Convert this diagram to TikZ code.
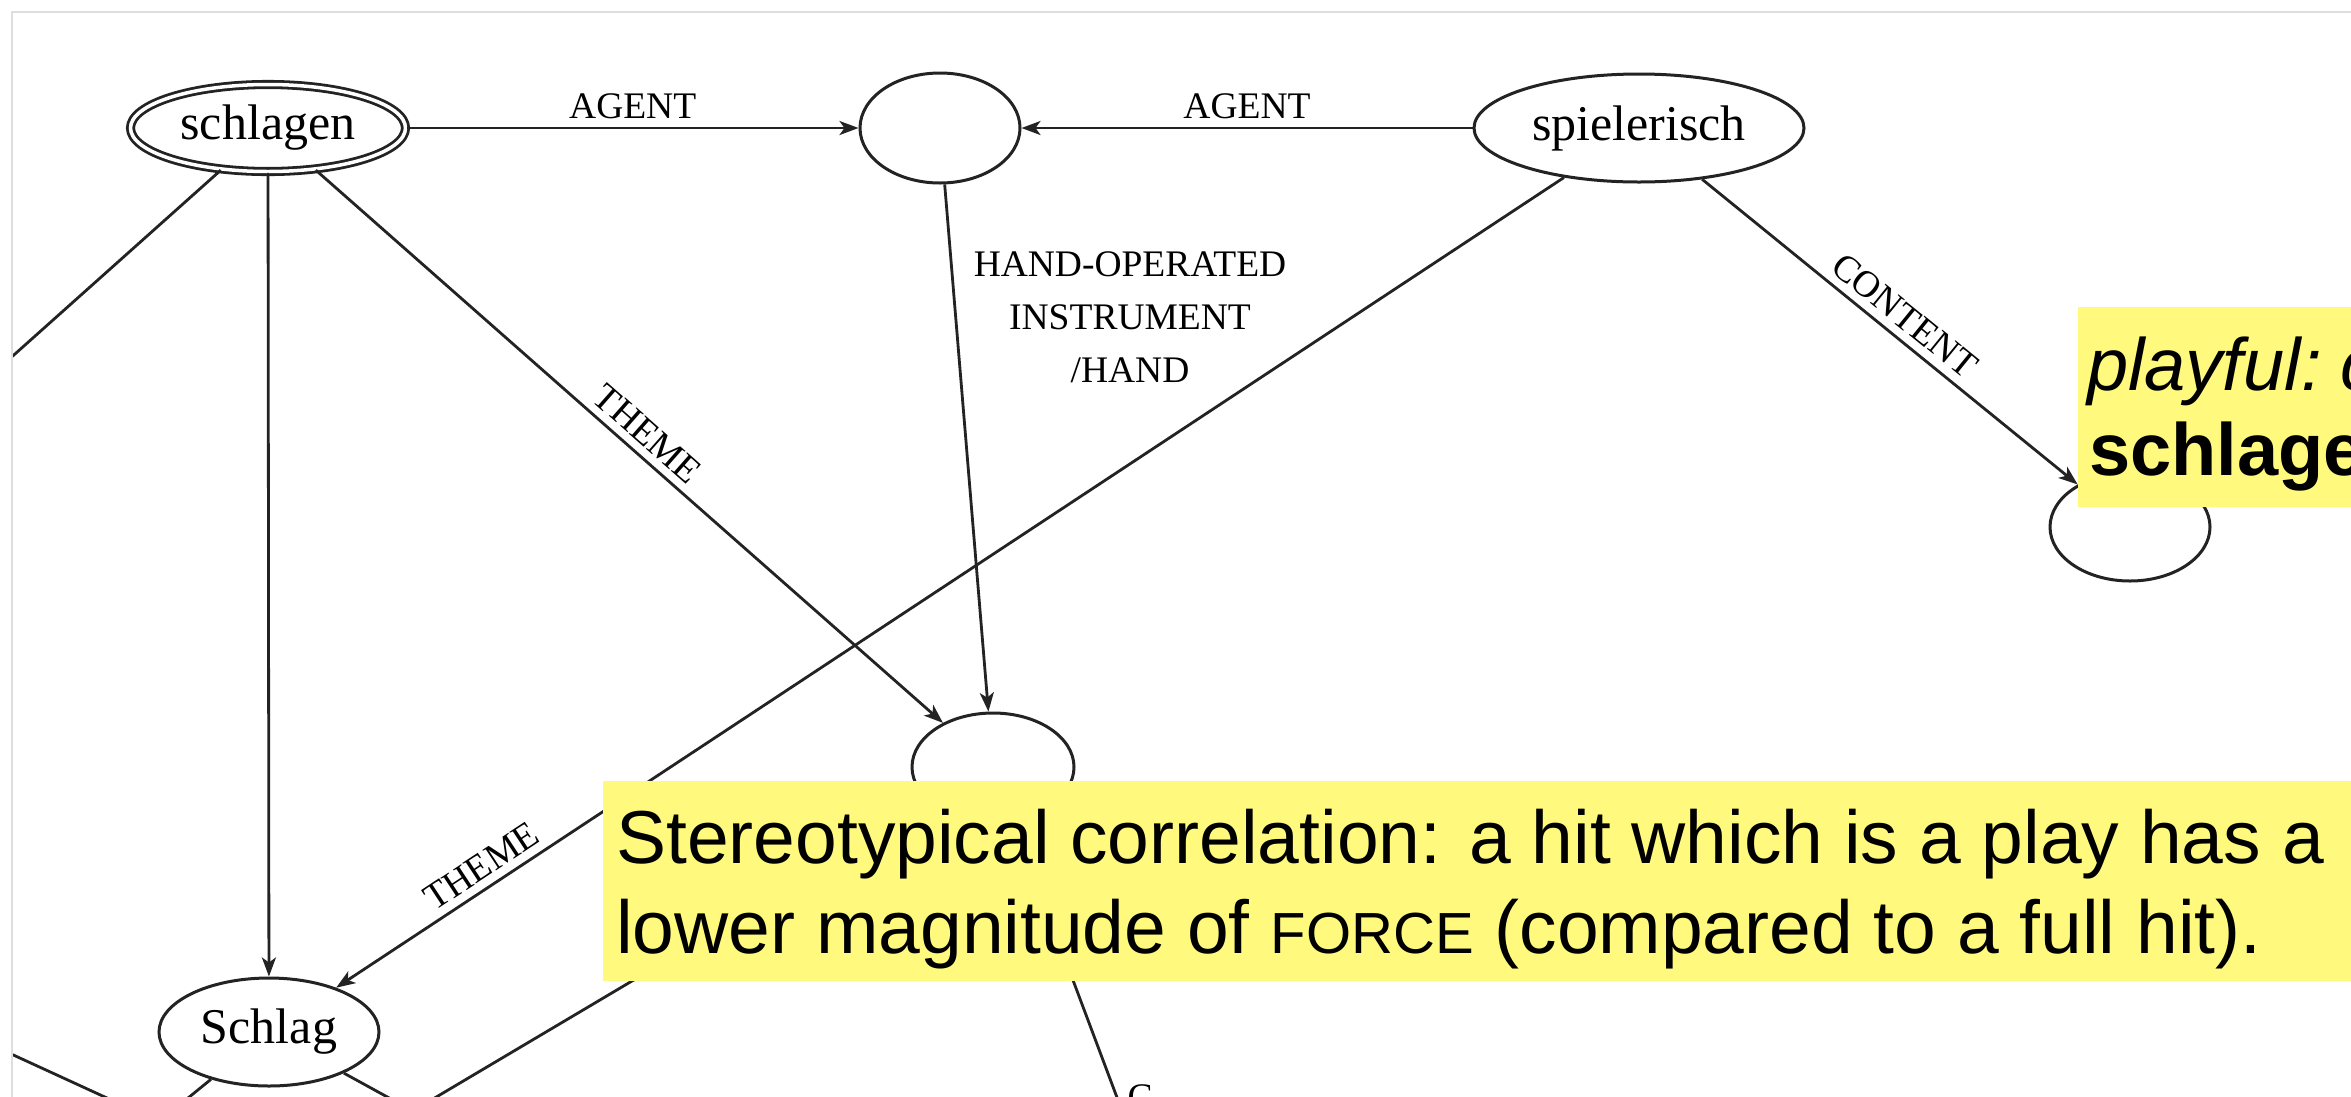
\documentclass[tikz,border=0pt]{standalone}
\usepackage{fontspec}
\setmainfont{Liberation Serif}
\newfontfamily\hel{Liberation Sans}
\usetikzlibrary{arrows.meta,shapes.geometric}
\definecolor{hl}{RGB}{255,250,125}
\definecolor{ln}{RGB}{35,35,35}
\definecolor{frm}{RGB}{222,222,222}
\begin{document}
\begin{tikzpicture}[x=1pt,y=-1pt,
  ell/.style={ellipse, draw=ln, line width=3pt, inner sep=0pt, font=\fontsize{50}{60}\selectfont},
  edge/.style={draw=ln, line width=2.8pt},
  arr/.style={edge, -{Stealth[length=19pt,width=14pt,inset=5pt]}},
  lab/.style={font=\fontsize{37.5}{53}\selectfont, inner sep=8pt, text=black},
  hltext/.style={font=\hel\fontsize{75}{90}\selectfont, inner sep=0pt, anchor=base west},
  notebox/.style={fill=hl, inner sep=0pt, anchor=north west},
]
\useasboundingbox (0,0) rectangle (2351,1096);
\clip (0,0) rectangle (2351,1096);
\fill[white] (0,0) rectangle (2351,1096);
\draw[frm, line width=2pt] (12,1200) -- (12,12) -- (2400,12);
\begin{scope}
\clip (13,13) rectangle (2351,1096);
% nodes
\node[ell, double, double distance=3.5pt, line width=2.8pt, minimum width=275pt, minimum height=87pt] (schlagen) at (268,128) {schlagen};
\node[ell, minimum width=160pt, minimum height=110pt] (top) at (940,128) {};
\node[ell, minimum width=330pt, minimum height=108pt] (spiel) at (1639,128) {spielerisch};
\node[ell, minimum width=160pt, minimum height=108pt] (br) at (2130,527) {};
\node[ell, minimum width=162pt, minimum height=108pt] (mid) at (993,767) {};
\node[ell, minimum width=220pt, minimum height=108pt] (schlag) at (269,1032) {Schlag};
% off-picture ends
\coordinate (L1) at (-200,546);
\coordinate (SL) at (85,1182);
\coordinate (SR) at (493,1155);
\coordinate (E1) at (271,1195);
\coordinate (F1) at (1178,1260);
\coordinate (G1) at (-187,963);
\coordinate (G2) at (303,1188);
% edges
\draw[arr] (schlagen) -- node[lab, above, pos=0.5] (ag1) {AGENT} (top);
\draw[arr] (spiel) -- node[lab, above, pos=0.5] (ag2) {AGENT} (top);
\draw[arr] (top) -- (mid);
\node[lab, inner sep=0pt, align=center, anchor=north] (hand) at (1130,251) {HAND-OPERATED\\INSTRUMENT\\/HAND};
\draw[arr] (schlagen) -- node[lab, sloped, above, pos=0.506] (th1) {THEME} (mid);
\draw[arr] (spiel) -- node[lab, sloped, above, pos=0.872] (th2) {THEME} (schlag);
\draw[arr] (spiel) -- node[lab, sloped, above, pos=0.503] (ct) {CONTENT} (br);
\draw[arr] (schlagen) -- (schlag);
\draw[edge] (schlagen) -- (L1);
\draw[edge] (schlag) -- (SL);
\draw[edge] (schlag) -- (SR);
\draw[edge] (mid) -- (E1);
\draw[edge] (mid) -- (F1);
\draw[edge] (G1) -- (G2);
\node[lab, inner sep=0pt, anchor=north] (cbot) at (1140,1084) {C};
\end{scope}
% yellow notes
\node[notebox, minimum width=1760pt, minimum height=200pt] (note1) at (603,781) {};
\node[hltext] (n1a) at (616,863) {Stereotypical correlation: a hit which is a play has a};
\node[hltext] (n1b) at (616,953) {lower magnitude of {\fontsize{58}{58}\selectfont FORCE} (compared to a full hit).};
\node[notebox, minimum width=290pt, minimum height=200pt] (note2) at (2078,307) {};
\node[hltext, font=\hel\itshape\fontsize{74}{85}\selectfont] (n2a) at (2087,390) {playful:\hspace{19pt}c};
\node[hltext, font=\hel\bfseries\fontsize{74}{85}\selectfont] (n2b) at (2089,475) {schlagen};
\end{tikzpicture}
\end{document}
